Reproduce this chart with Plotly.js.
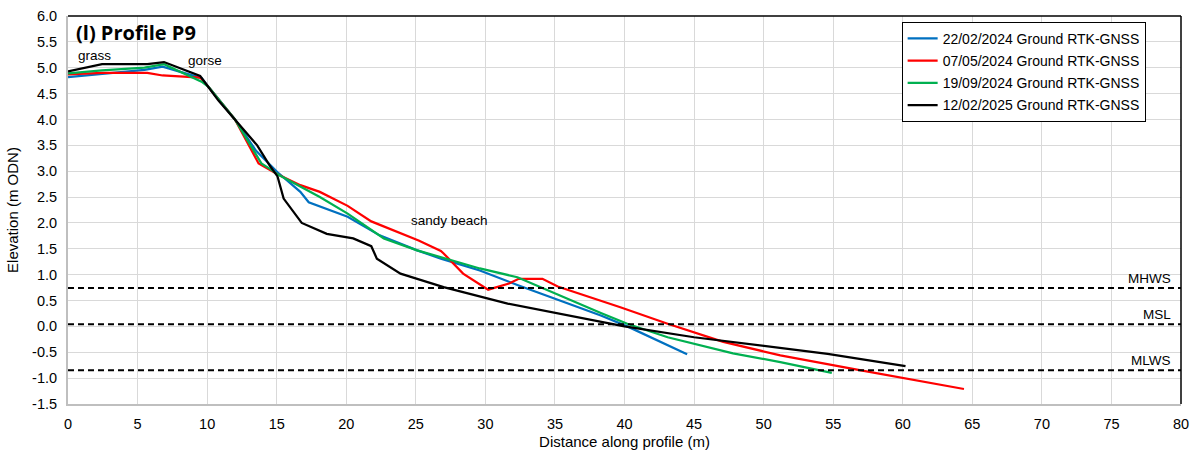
<!DOCTYPE html>
<html><head><meta charset="utf-8">
<script src="https://cdn.plot.ly/plotly-3.0.1.min.js"></script>
<style>html,body{margin:0;padding:0;background:#fff}#chart{width:1199px;height:452px}</style>
</head><body><div id="chart"></div>
<script>
// Series: distance along profile (m) and elevation (m ODN)
const seriesNames = ["22/02/2024 Ground RTK-GNSS","07/05/2024 Ground RTK-GNSS","19/09/2024 Ground RTK-GNSS","12/02/2025 Ground RTK-GNSS"];
const seriesColors = ["#0070c0","#ff0000","#00b050","#000000"];

const blueX = [0, 5.5, 6.8, 9.6, 10.1, 12, 13.5, 14.2, 15.06, 16.7, 17.3, 20.1, 22.4, 25.1, 26.8, 29.6, 32.3, 38.3, 40.2, 44.5];
const blueY = [4.82, 4.96, 5.02, 4.80, 4.63, 4.0, 3.4, 3.21, 2.98, 2.60, 2.40, 2.12, 1.76, 1.47, 1.31, 1.08, 0.80, 0.21, 0.0, -0.54];

const redX = [0, 2.45, 5.7, 6.8, 9.5, 10.1, 12, 13.7, 15.06, 16.7, 18.1, 20.1, 21.8, 25.2, 26.8, 27.0, 28.4, 30.2, 31.7, 32.4, 34.1, 35.2, 39.7, 43.1, 47.1, 51.2, 57.0, 64.4];
const redY = [4.87, 4.90, 4.90, 4.85, 4.81, 4.63, 4.0, 3.15, 2.94, 2.73, 2.60, 2.33, 2.03, 1.66, 1.46, 1.41, 1.02, 0.71, 0.83, 0.92, 0.92, 0.77, 0.37, 0.05, -0.30, -0.56, -0.85, -1.21];

const greenX = [0, 2.45, 5.5, 6.9, 9.6, 10.1, 12, 13.45, 13.9, 14.65, 15.06, 18.1, 20.1, 22.7, 25.1, 29.6, 32.3, 38.3, 40.2, 43.1, 47.8, 51.2, 54.9];
const greenY = [4.89, 4.95, 5.00, 5.07, 4.73, 4.63, 4.0, 3.37, 3.15, 3.02, 2.94, 2.50, 2.18, 1.70, 1.47, 1.12, 0.95, 0.26, 0.05, -0.21, -0.52, -0.69, -0.90];

const blackX = [0, 2.45, 5.7, 6.9, 9.5, 10.8, 13.6, 14.5, 15.06, 15.5, 16.8, 18.6, 20.5, 21.8, 22.2, 23.9, 25.1, 27.0, 31.6, 37.6, 40.0, 45.0, 51.2, 54.6, 60.2];
const blackY = [4.93, 5.07, 5.07, 5.11, 4.84, 4.37, 3.50, 3.11, 2.90, 2.47, 2.00, 1.79, 1.70, 1.55, 1.31, 1.02, 0.92, 0.76, 0.44, 0.12, 0.0, -0.21, -0.41, -0.53, -0.77];

const tideNames = ["MHWS","MSL","MLWS"];
const tideLevels = [0.74, 0.04, -0.85];

const xTicks = [0,5,10,15,20,25,30,35,40,45,50,55,60,65,70,75,80];
const yTicks = [-1.5,-1.0,-0.5,0.0,0.5,1.0,1.5,2.0,2.5,3.0,3.5,4.0,4.5,5.0,5.5,6.0];

const xs = [blueX, redX, greenX, blackX];
const ys = [blueY, redY, greenY, blackY];

const traces = seriesNames.map((n,i)=>({
  x: xs[i], y: ys[i], name: n, type:'scatter', mode:'lines',
  line:{color:seriesColors[i], width:2.25}, legendgroup:'g'+i
}));

const shapes = tideLevels.map(v=>({
  type:'line', xref:'paper', x0:0, x1:1, yref:'y', y0:v, y1:v,
  line:{color:'#000', width:2, dash:'6px,4px'}
}));
// frame: top and right in black
shapes.push({type:'line', xref:'paper', yref:'paper', x0:0, x1:1, y0:1, y1:1, line:{color:'#000', width:1.5}});
shapes.push({type:'line', xref:'paper', yref:'paper', x0:1, x1:1, y0:0, y1:1, line:{color:'#000', width:1.5}});

const F = 'Liberation Sans, Arial, sans-serif';
const annotations = tideNames.map((n,i)=>({
  text:n, xref:'paper', x:0.993, xanchor:'right', yref:'y', y:tideLevels[i],
  yanchor:'bottom', yshift:0, showarrow:false, font:{family:F, size:13.5, color:'#000'}
}));
annotations.push({text:'<b>(l) Profile P9</b>', xref:'paper', yref:'paper', x:0.005, y:0.997, xanchor:'left', yanchor:'top', showarrow:false, font:{family:'Open Sans, Lato, sans-serif', size:20, color:'#000'}});
annotations.push({text:'grass', xref:'x', yref:'y', x:0.6, y:5.05, xanchor:'left', yanchor:'bottom', showarrow:false, font:{family:F, size:13.5, color:'#000'}});
annotations.push({text:'gorse', xref:'x', yref:'y', x:8.5, y:4.95, xanchor:'left', yanchor:'bottom', showarrow:false, font:{family:F, size:13.5, color:'#000'}});
annotations.push({text:'sandy beach', xref:'x', yref:'y', x:24.5, y:1.87, xanchor:'left', yanchor:'bottom', showarrow:false, font:{family:F, size:13.5, color:'#000'}});

const layout = {
  width:1199, height:452,
  margin:{l:68, r:18, t:16, b:48, pad:0},
  paper_bgcolor:'#fff', plot_bgcolor:'#fff',
  font:{family:F, size:14, color:'#000'},
  showlegend:true,
  legend:{x:0.749, y:0.985, xanchor:'left', yanchor:'top', bordercolor:'#000', borderwidth:1, bgcolor:'#fff',
    font:{family:F, size:14}, tracegroupgap:1, traceorder:'grouped', itemwidth:30},
  xaxis:{range:[0,80], tickvals:xTicks, ticktext:xTicks.map(String), showgrid:true, gridcolor:'#d9d9d9', gridwidth:1,
    showline:true, linecolor:'#bfbfbf', linewidth:2, zeroline:false, ticks:'', ticklen:0, ticklabelstandoff:6,
    title:{text:'Distance along profile (m)', font:{size:15}, standoff:5}, tickfont:{size:14.5}},
  yaxis:{range:[-1.5,6], tickvals:yTicks, ticktext:yTicks.map(v=>v.toFixed(1)), showgrid:true, gridcolor:'#d9d9d9', gridwidth:1,
    showline:true, linecolor:'#bfbfbf', linewidth:2, zeroline:false, ticks:'', ticklen:0, ticklabelstandoff:6,
    title:{text:'Elevation (m ODN)', font:{size:15}, standoff:10}, tickfont:{size:14.5}},
  shapes:shapes, annotations:annotations
};
Plotly.newPlot('chart', traces, layout, {displayModeBar:false, staticPlot:true});
</script></body></html>
